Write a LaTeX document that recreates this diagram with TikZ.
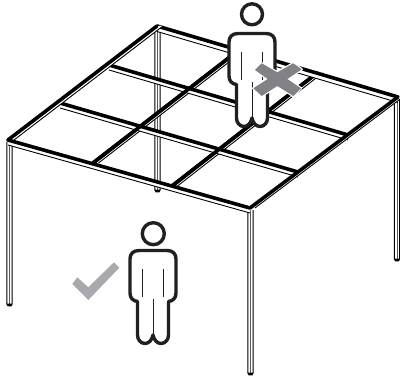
\documentclass[tikz,border=0pt]{standalone}
\definecolor{ink}{HTML}{231F20}
\definecolor{xgrey}{HTML}{808285}
\definecolor{vgrey}{HTML}{A7A9AC}
\newcommand{\roofbeam}[3]{%
  \fill[white] #1 -- #2 -- ($#2+#3$) -- ($#1+#3$) -- cycle;
  \draw[thinbar] ($#1+#3$) -- ($#2+#3$);
  \draw[thickbar] #1 -- #2;}
\newcommand{\postbar}[3]{%
  \fill[white] (#1-2.6,#2) rectangle (#1+2.6,#3);
  \draw[line width=1.1pt,black] (#1-2.6,#2) -- (#1-2.6,#3) -- (#1-1.5,#3+1.8) -- (#1+1.5,#3+1.8) -- (#1+2.6,#3) -- (#1+2.6,#2);
  \draw[line width=.9pt,black!65] (#1,#2) -- (#1,#3);
  \fill[black] (#1-2.6,#3-.4) -- (#1+2.6,#3-.4) -- (#1+1.5,#3+1.8) -- (#1-1.5,#3+1.8) -- cycle;}
\tikzset{
  thinbar/.style={line width=.9pt,black},
  thickbar/.style={line width=3.6pt,black,line cap=round},
  figline/.style={line width=3.4pt,ink,line join=round},
  figthin/.style={line width=.7pt,ink},
  personfig/.pic={
    \draw[figline,fill=white] (-14,1.5) -- (14,1.5)
      .. controls (20,1.5) and (23,5) .. (23,10) -- (23,44)
      .. controls (23,49) and (20,52) .. (15.5,52.5)
      -- (15.5,86) .. controls (15.5,91) and (12,94.5) .. (8,94.5)
      .. controls (4,94.5) and (1,91) .. (0,86)
      .. controls (-1,91) and (-4,94.5) .. (-8,94.5)
      .. controls (-12,94.5) and (-15.5,91) .. (-15.5,86)
      -- (-15.5,52.5) .. controls (-20,52) and (-23,49) .. (-23,44)
      -- (-23,10) .. controls (-23,5) and (-20,1.5) .. (-14,1.5) -- cycle;
    \draw[figthin] (-10.5,20) -- (-10.5,48);
    \draw[figthin] (10.5,20) -- (10.5,48);
    \draw[figthin] (0,50) -- (0,87);
  }
}
\usetikzlibrary{calc}
\begin{document}
\begin{tikzpicture}[x=1pt,y=-1pt]
\useasboundingbox (0,0) rectangle (400,379);
% posts
\postbar{157.5}{28}{190}
\postbar{9.5}{142}{304}
\postbar{397}{98}{259}
\postbar{250.5}{210}{373}
% interior beams, one direction
\roofbeam{(93,163)}{(239,50)}{(5.5,0)}
\roofbeam{(172,186)}{(317,73)}{(5.5,0)}
% interior beams, other direction
\roofbeam{(109,65)}{(348,135)}{(0,5)}
\roofbeam{(60,103)}{(298,172)}{(0,5)}
\draw[thickbar] (93,163) -- (239,50);
\draw[thickbar] (172,186) -- (317,73);
% outer frame
\roofbeam{(157,26)}{(398,97)}{(0,5.5)}
\roofbeam{(8,140)}{(157,26)}{(6,0)}
\roofbeam{(250,208)}{(398,97)}{(5,0)}
\roofbeam{(8,140)}{(250,208)}{(0,5)}
% upper person
\path (252,32) pic {personfig};
\draw[figline,fill=white] (252,14.3) circle[radius=10.5];
% lower person
\path (153,249) pic {personfig};
\draw[figline,fill=white] (153.3,233.7) circle[radius=11];
% cross
\draw[white,fill=white,line width=2.4pt,line join=round]
  (261.7,63.3) -- (277.3,72.3) -- (293.3,63.3) -- (301.7,69.3) -- (287.3,79)
  -- (301,88.3) -- (293.3,96) -- (277.3,86) -- (261.7,96) -- (253.3,88.3)
  -- (267.7,79) -- (255,70) -- cycle;
\fill[xgrey]
  (261.7,63.3) -- (277.3,72.3) -- (293.3,63.3) -- (301.7,69.3) -- (287.3,79)
  -- (301,88.3) -- (293.3,96) -- (277.3,86) -- (261.7,96) -- (253.3,88.3)
  -- (267.7,79) -- (255,70) -- cycle;
% tick
\fill[vgrey] (72.3,284) -- (77.3,277.3) -- (88.3,287.3) -- (114,262.3) -- (119.3,267.7) -- (88.3,300) -- cycle;
\end{tikzpicture}
\end{document}
